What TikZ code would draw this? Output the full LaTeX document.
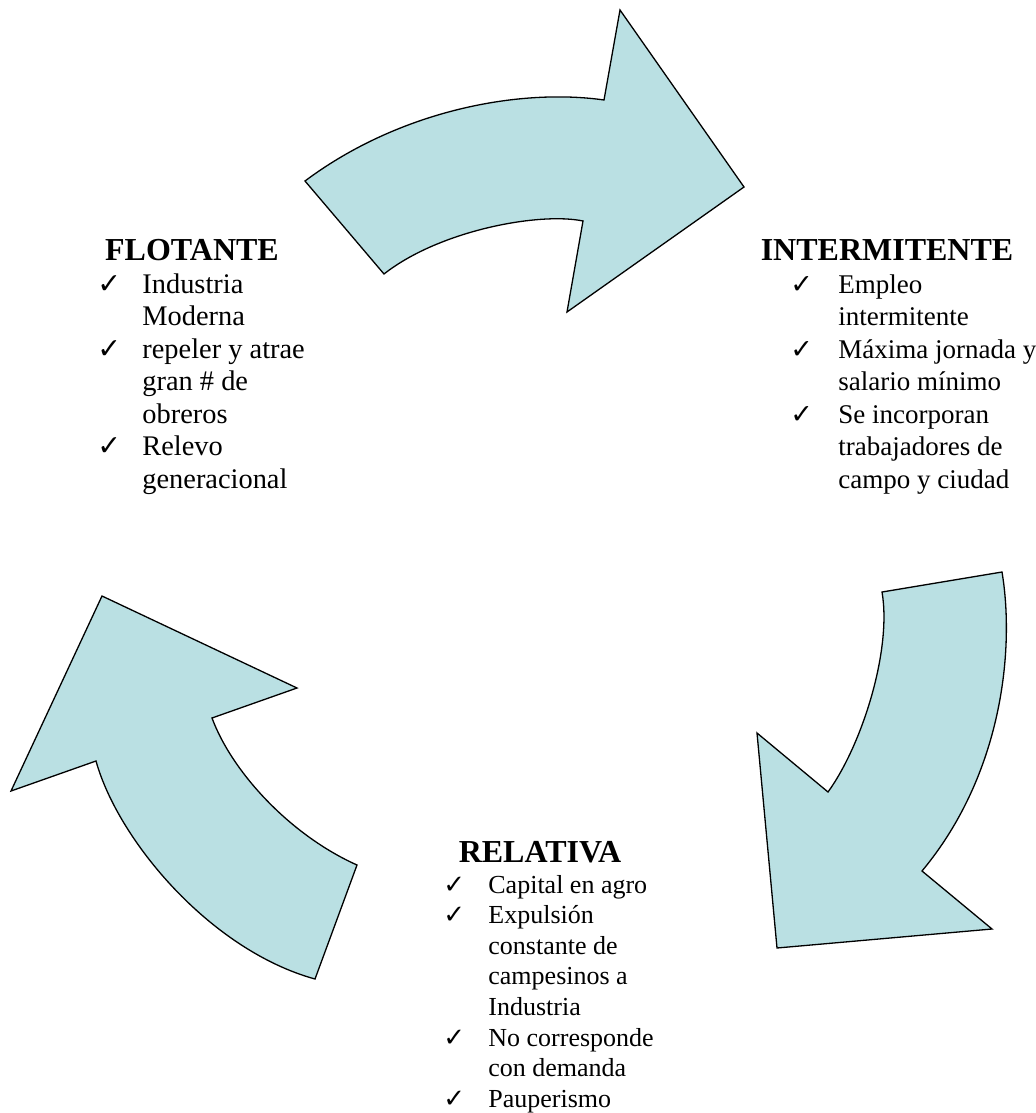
\documentclass[tikz,border=0pt]{standalone}
\usepackage{fontspec}
\setmainfont{Liberation Serif}
\newfontfamily\checkfont{DejaVu Sans}
\usepackage{tikz}
\definecolor{arrowfill}{RGB}{186,224,227}
\newcommand{\chk}[1][22.5pt]{\makebox[#1][l]{\checkfont\bfseries ✓}}
\tikzset{
  cyclearrow/.style = {draw=black, line width=0.65pt, fill=arrowfill, line join=miter},
  heading/.style = {font=\fontsize{16}{19}\selectfont\bfseries, inner sep=0pt, anchor=base},
  checklist/.style = {inner sep=0pt, anchor=base west},
}

\begin{document}
\begin{tikzpicture}[x=0.5pt, y=-0.5pt]
\useasboundingbox (0,0) rectangle (1036,1113);

% top arrow: flotante -> intermitente
\draw[cyclearrow] (305,181) .. controls (400,110) and (520,88) .. (604,100)
  -- (620,10) -- (744,187) -- (567,312) -- (583,221)
  .. controls (540,212) and (440,230) .. (384,274) -- cycle;

% right arrow: intermitente -> relativa
\draw[cyclearrow] (882,592) -- (1002,572)
  .. controls (1015,650) and (1002,775) .. (922,871)
  -- (992,929) -- (777,948) -- (757,733) -- (828,792)
  .. controls (862,745) and (892,650) .. (882,592) -- cycle;

% left arrow: relativa -> flotante
\draw[cyclearrow] (315,979) -- (357,865)
  .. controls (290,835) and (232,772) .. (212,718)
  -- (297,688) -- (102,596) -- (11,791) -- (96,761)
  .. controls (118,840) and (210,950) .. (315,979) -- cycle;

% FLOTANTE
\node[heading] (flotante) at (192,260) {FLOTANTE};
\node[checklist, font=\fontsize{14.2}{16.25}\selectfont] (flotanteList) at (97,293) {%
  \begin{tabular}[t]{@{}l@{}l@{}}
    \chk & Industria\\
         & Moderna\\
    \chk & repeler y atrae\\
         & gran \# de\\
         & obreros\\
    \chk & Relevo\\
         & generacional
  \end{tabular}};

% INTERMITENTE
\node[heading] (intermitente) at (887,260) {INTERMITENTE};
\node[checklist, font=\fontsize{13.5}{16.25}\selectfont] (intermitenteList) at (790,293) {%
  \begin{tabular}[t]{@{}l@{}l@{}}
    \chk[24pt] & Empleo\\
               & intermitente\\
    \chk[24pt] & Máxima jornada y\\
               & salario mínimo\\
    \chk[24pt] & Se incorporan\\
               & trabajadores de\\
               & campo y ciudad
  \end{tabular}};

% RELATIVA
\node[heading] (relativa) at (540,862) {RELATIVA};
\node[checklist, font=\fontsize{13}{15.3}\selectfont] (relativaList) at (443,893) {%
  \begin{tabular}[t]{@{}l@{}l@{}}
    \chk & Capital en agro\\
    \chk & Expulsión\\
         & constante de\\
         & campesinos a\\
         & Industria\\
    \chk & No corresponde\\
         & con demanda\\
    \chk & Pauperismo
  \end{tabular}};

\end{tikzpicture}
\end{document}
